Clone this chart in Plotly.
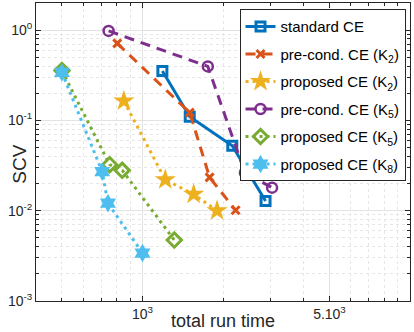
import plotly.graph_objects as go

# ---- data ----
std_x = [1187, 1502, 2166, 2884]
std_y = [0.352, 0.110, 0.0524, 0.0128]

pc2_x = [805, 1502, 1782, 2229]
pc2_y = [0.713, 0.122, 0.0234, 0.0101]

pr2_x = [852, 1217, 1554, 1900]
pr2_y = [0.164, 0.022, 0.0152, 0.0100]

pc5_x = [747, 1755, 2415, 3051]
pc5_y = [0.98, 0.396, 0.0263, 0.0180]

pr5_x = [500, 754, 840, 1315]
pr5_y = [0.356, 0.0323, 0.028, 0.00473]

pr8_x = [500, 707, 743, 1000]
pr8_y = [0.340, 0.027, 0.0121, 0.0034]

x_tickvals = [1000, 5000]
x_ticktext = ["10<sup>3</sup>", "5.10<sup>3</sup>"]
y_tickvals = [1e-3, 1e-2, 1e-1, 1]
y_ticktext = ["10<sup>-3</sup>", "10<sup>-2</sup>", "10<sup>-1</sup>", "10<sup>0</sup>"]

x_minor = [500, 600, 700, 800, 900, 2000, 3000, 4000, 6000, 7000, 8000, 9000]
y_minor = [m * 10 ** e for e in (-3, -2, -1, 0) for m in range(2, 10)]

FONT = "Liberation Sans, Arial, sans-serif"

series = [
    ("standard CE", std_x, std_y, "#0072BD", "solid",
     dict(symbol="square-open", size=9, line=dict(width=3))),
    ("pre-cond. CE (K<sub>2</sub>)", pc2_x, pc2_y, "#D95319", "dash",
     dict(symbol="x-thin-open", size=8, line=dict(width=3))),
    ("proposed CE (K<sub>2</sub>)", pr2_x, pr2_y, "#EDB120", "dot",
     dict(symbol="star", size=16, line=dict(width=0))),
    ("pre-cond. CE (K<sub>5</sub>)", pc5_x, pc5_y, "#7E2F8E", "dash",
     dict(symbol="circle-open", size=10, line=dict(width=2.5))),
    ("proposed CE (K<sub>5</sub>)", pr5_x, pr5_y, "#77AC30", "dot",
     dict(symbol="diamond-open", size=11, line=dict(width=3))),
    ("proposed CE (K<sub>8</sub>)", pr8_x, pr8_y, "#4DBEEE", "dot",
     dict(symbol="hexagram", size=14, line=dict(width=0))),
]

fig = go.Figure()
for i, (name, xs, ys, col, dash, mk) in enumerate(series):
    dashval = dash
    if dash == "dash":
        dashval = "10px,7px"
    elif dash == "dot":
        dashval = "3px,4px"
    fig.add_trace(go.Scatter(
        x=xs, y=ys, name=name, mode="lines+markers", legendgroup=f"g{i}",
        line=dict(color=col, width=3, dash=dashval),
        marker=dict(color=col, **mk),
    ))

axis_common = dict(
    type="log", showline=True, mirror="ticks", linecolor="#262626", linewidth=1,
    ticks="inside", ticklen=5, tickcolor="#262626",
    showgrid=True, gridcolor="#e3e3e3", gridwidth=1, zeroline=False,
    automargin=False,
    tickfont=dict(family=FONT, size=14, color="#262626"),
)

fig.update_xaxes(
    **axis_common,
    range=[2.602, 4.0],
    tickvals=x_tickvals, ticktext=x_ticktext,
    minor=dict(tickvals=x_minor, ticks="inside", ticklen=3, tickcolor="#262626",
               showgrid=True, gridcolor="#e6e6e6", griddash="dot", gridwidth=1),
)
fig.update_yaxes(
    **axis_common,
    range=[-3, 0.3],
    tickvals=y_tickvals, ticktext=y_ticktext,
    minor=dict(tickvals=y_minor, ticks="inside", ticklen=3, tickcolor="#262626",
               showgrid=True, gridcolor="#e6e6e6", griddash="dot", gridwidth=1),
)

fig.add_annotation(
    text="total run time", xref="paper", yref="paper", x=0.499, y=-0.067,
    xanchor="center", yanchor="middle", showarrow=False,
    font=dict(family=FONT, size=18, color="#262626"),
)
fig.add_annotation(
    text="SCV", xref="paper", yref="paper", x=-0.0435, y=0.46, textangle=-90,
    xanchor="center", yanchor="middle", showarrow=False,
    font=dict(family=FONT, size=19, color="#262626"),
)

fig.update_layout(
    width=414, height=332,
    margin=dict(l=36, r=3.5, t=3, b=31),
    plot_bgcolor="white", paper_bgcolor="white",
    font=dict(family=FONT, color="#262626"),
    legend=dict(
        x=0.988, y=0.979, xanchor="right", yanchor="top",
        bgcolor="white", bordercolor="#262626", borderwidth=1,
        font=dict(family=FONT, size=15, color="black"),
        tracegroupgap=5, itemwidth=30,
    ),
)

fig.write_html("out.html", config={"displayModeBar": False},
               post_script="document.body.style.margin='0';")
